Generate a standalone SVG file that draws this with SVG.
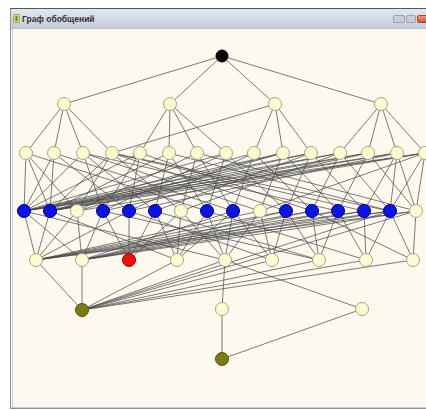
<svg xmlns="http://www.w3.org/2000/svg" width="426" height="410" viewBox="0 0 426 410">
  <defs>
    <linearGradient id="titleGrad" x1="0" y1="0" x2="0" y2="1">
      <stop offset="0" stop-color="#e2e7ed"/>
      <stop offset="0.5" stop-color="#d3dae3"/>
      <stop offset="1" stop-color="#c2ccd8"/>
    </linearGradient>
    <linearGradient id="closeGrad" x1="0" y1="0" x2="0" y2="1">
      <stop offset="0" stop-color="#f0a080"/>
      <stop offset="1" stop-color="#d0502a"/>
    </linearGradient>
    <style>
      .edges path { fill: none; stroke: #484848; stroke-width: 0.85; stroke-opacity: 0.85; }
      .n circle { stroke-width: 1; }
      .cream circle { fill: #fbfbcf; stroke: #a8a884; }
      .blue circle { fill: #0a14e6; stroke: #00007a; }
      .red circle { fill: #f20d0d; stroke: #a00000; }
      .olive circle { fill: #7b7b12; stroke: #55550a; }
      .black circle { fill: #050505; stroke: #000; }
      .title { font-family: "Liberation Sans", Arial, sans-serif; font-size: 8.5px; font-weight: bold; fill: #333; }
    </style>
  </defs>

  <!-- desktop and window frame -->
  <rect x="0" y="0" width="426" height="410" fill="#ffffff"/>
  <rect x="10.5" y="8.5" width="420" height="400" fill="#fdf9ee" stroke="#8d939b"/>
  <rect x="11" y="9" width="420" height="19" fill="url(#titleGrad)"/>
  <line x1="10" y1="8.5" x2="426" y2="8.5" stroke="#4f5964"/>
  <line x1="11" y1="28.5" x2="426" y2="28.5" stroke="#b6bfca"/>
  <line x1="12.5" y1="29" x2="12.5" y2="407" stroke="#c9ccd0"/>
  <line x1="11" y1="407.5" x2="426" y2="407.5" stroke="#c9ccd0"/>

  <!-- title bar contents -->
  <g id="titlebar">
    <rect x="13.5" y="14.5" width="6" height="8" rx="1" fill="#d6d46a" stroke="#8a9a3a" stroke-width="0.8"/>
    <rect x="15.5" y="16" width="2" height="5" fill="#5a8a2a"/>
    <text class="title" x="22" y="21.5">Граф обобщений</text>
    <rect x="393.5" y="15.5" width="11" height="7" rx="1.5" fill="#c7ced8" stroke="#9aa3ae"/>
    <rect x="406.5" y="15.5" width="9" height="7" rx="1.5" fill="#c7ced8" stroke="#9aa3ae"/>
    <rect x="417.5" y="15.5" width="10" height="7" rx="1.5" fill="url(#closeGrad)" stroke="#a4472a"/>
  </g>

  <!-- connectors -->
  <g id="edges" class="edges">
    <!-- top to second level -->
    <path d="M222 56L64 104M222 56L170 104M222 56L275 104M222 56L381 104"/>
    <!-- second level to third level -->
    <path d="M64 104L26 153M64 104L54 153M64 104L83 153M64 104L112 153"/>
    <path d="M170 104L140 153M170 104L169 153M170 104L197 153M170 104L226 153"/>
    <path d="M275 104L112 153M275 104L254 153M275 104L283 153M275 104L311 153"/>
    <path d="M381 104L340 153M381 104L368 153M381 104L397 153M381 104L425 153"/>
    <!-- third level to fourth level -->
    <path d="M26 153L24 211M26 153L50 211M26 153L77 211M26 153L207 211"/>
    <path d="M54 153L24 211M54 153L50 211M54 153L129 211M54 153L233 211"/>
    <path d="M83 153L24 211M83 153L103 211M83 153L155 211M83 153L260 211M83 153L338 211"/>
    <path d="M112 153L50 211M112 153L77 211M112 153L181 211M112 153L286 211M112 153L364 211M112 153L390 211"/>
    <path d="M140 153L24 211M140 153L103 211M140 153L129 211M140 153L312 211"/>
    <path d="M169 153L50 211M169 153L155 211M169 153L207 211M169 153L390 211"/>
    <path d="M197 153L77 211M197 153L181 211M197 153L233 211M197 153L416 211"/>
    <path d="M226 153L24 211M226 153L103 211M226 153L207 211M226 153L286 211"/>
    <path d="M254 153L50 211M254 153L129 211M254 153L233 211M254 153L312 211"/>
    <path d="M283 153L24 211M283 153L50 211M283 153L77 211M283 153L260 211M283 153L338 211"/>
    <path d="M311 153L24 211M311 153L50 211M311 153L155 211M311 153L286 211M311 153L364 211"/>
    <path d="M340 153L24 211M340 153L50 211M340 153L181 211M340 153L312 211M340 153L390 211"/>
    <path d="M368 153L24 211M368 153L50 211M368 153L103 211M368 153L338 211M368 153L416 211"/>
    <path d="M397 153L24 211M397 153L50 211M397 153L129 211M397 153L364 211M397 153L390 211M397 153L416 211"/>
    <path d="M425 153L24 211M425 153L50 211M425 153L77 211M425 153L260 211M425 153L390 211M425 153L416 211"/>
    <!-- fourth level to fifth level -->
    <path d="M36 260L24 211M36 260L50 211M36 260L77 211M36 260L129 211M36 260L260 211M36 260L286 211M36 260L312 211M36 260L338 211M36 260L364 211M36 260L390 211M36 260L416 211"/>
    <path d="M82 260L24 211M82 260L77 211M82 260L103 211M82 260L233 211M82 260L286 211M82 260L312 211M82 260L338 211M82 260L364 211M82 260L390 211M82 260L416 211"/>
    <path d="M129 260L103 211M129 260L129 211M129 260L155 211M129 260L181 211"/>
    <path d="M177 260L50 211M177 260L155 211M177 260L181 211M177 260L207 211M177 260L233 211"/>
    <path d="M225 260L24 211M225 260L181 211M225 260L207 211M225 260L233 211M225 260L260 211"/>
    <path d="M272 260L129 211M272 260L233 211M272 260L260 211M272 260L286 211"/>
    <path d="M319 260L103 211M319 260L155 211M319 260L286 211M319 260L312 211M319 260L338 211"/>
    <path d="M366 260L207 211M366 260L338 211M366 260L364 211M366 260L390 211"/>
    <path d="M413 260L312 211M413 260L390 211M413 260L416 211"/>
    <!-- fifth level to sixth level -->
    <path d="M82 310L36 260M82 310L82 260M82 310L177 260M82 310L225 260M82 310L272 260M82 310L319 260M82 310L366 260M82 310L413 260M82 310L390 211M82 310L416 211"/>
    <path d="M222 309L225 260M362 309L225 260"/>
    <!-- sixth level to bottom -->
    <path d="M222 359L222 309M222 359L362 309"/>
  </g>

  <!-- nodes -->
  <g id="top" class="n black"><circle cx="222" cy="56" r="6"/></g>

  <g id="l2-1" class="n cream"><circle cx="64" cy="104" r="6.5"/></g>
  <g id="l2-2" class="n cream"><circle cx="170" cy="104" r="6.5"/></g>
  <g id="l2-3" class="n cream"><circle cx="275" cy="104" r="6.5"/></g>
  <g id="l2-4" class="n cream"><circle cx="381" cy="104" r="6.5"/></g>

  <g id="l3-1" class="n cream"><circle cx="26" cy="153" r="6.5"/></g>
  <g id="l3-2" class="n cream"><circle cx="54" cy="153" r="6.5"/></g>
  <g id="l3-3" class="n cream"><circle cx="83" cy="153" r="6.5"/></g>
  <g id="l3-4" class="n cream"><circle cx="112" cy="153" r="6.5"/></g>
  <g id="l3-5" class="n cream"><circle cx="140" cy="153" r="6.5"/></g>
  <g id="l3-6" class="n cream"><circle cx="169" cy="153" r="6.5"/></g>
  <g id="l3-7" class="n cream"><circle cx="197" cy="153" r="6.5"/></g>
  <g id="l3-8" class="n cream"><circle cx="226" cy="153" r="6.5"/></g>
  <g id="l3-9" class="n cream"><circle cx="254" cy="153" r="6.5"/></g>
  <g id="l3-10" class="n cream"><circle cx="283" cy="153" r="6.5"/></g>
  <g id="l3-11" class="n cream"><circle cx="311" cy="153" r="6.5"/></g>
  <g id="l3-12" class="n cream"><circle cx="340" cy="153" r="6.5"/></g>
  <g id="l3-13" class="n cream"><circle cx="368" cy="153" r="6.5"/></g>
  <g id="l3-14" class="n cream"><circle cx="397" cy="153" r="6.5"/></g>
  <g id="l3-15" class="n cream"><circle cx="425" cy="153" r="6.5"/></g>

  <g id="l4-1" class="n blue"><circle cx="24" cy="211" r="6.5"/></g>
  <g id="l4-2" class="n blue"><circle cx="50" cy="211" r="6.5"/></g>
  <g id="l4-3" class="n cream"><circle cx="77" cy="211" r="6.5"/></g>
  <g id="l4-4" class="n blue"><circle cx="103" cy="211" r="6.5"/></g>
  <g id="l4-5" class="n blue"><circle cx="129" cy="211" r="6.5"/></g>
  <g id="l4-6" class="n blue"><circle cx="155" cy="211" r="6.5"/></g>
  <g id="l4-7" class="n cream"><circle cx="181" cy="211" r="6.5"/></g>
  <g id="l4-8" class="n blue"><circle cx="207" cy="211" r="6.5"/></g>
  <g id="l4-9" class="n blue"><circle cx="233" cy="211" r="6.5"/></g>
  <g id="l4-10" class="n cream"><circle cx="260" cy="211" r="6.5"/></g>
  <g id="l4-11" class="n blue"><circle cx="286" cy="211" r="6.5"/></g>
  <g id="l4-12" class="n blue"><circle cx="312" cy="211" r="6.5"/></g>
  <g id="l4-13" class="n blue"><circle cx="338" cy="211" r="6.5"/></g>
  <g id="l4-14" class="n blue"><circle cx="364" cy="211" r="6.5"/></g>
  <g id="l4-15" class="n blue"><circle cx="390" cy="211" r="6.5"/></g>
  <g id="l4-16" class="n cream"><circle cx="416" cy="211" r="6.5"/></g>

  <g id="l5-1" class="n cream"><circle cx="36" cy="260" r="6.5"/></g>
  <g id="l5-2" class="n cream"><circle cx="82" cy="260" r="6.5"/></g>
  <g id="l5-3" class="n red"><circle cx="129" cy="260" r="6.5"/></g>
  <g id="l5-4" class="n cream"><circle cx="177" cy="260" r="6.5"/></g>
  <g id="l5-5" class="n cream"><circle cx="225" cy="260" r="6.5"/></g>
  <g id="l5-6" class="n cream"><circle cx="272" cy="260" r="6.5"/></g>
  <g id="l5-7" class="n cream"><circle cx="319" cy="260" r="6.5"/></g>
  <g id="l5-8" class="n cream"><circle cx="366" cy="260" r="6.5"/></g>
  <g id="l5-9" class="n cream"><circle cx="413" cy="260" r="6.5"/></g>

  <g id="l6-1" class="n olive"><circle cx="82" cy="310" r="6.5"/></g>
  <g id="l6-2" class="n cream"><circle cx="222" cy="309" r="6.5"/></g>
  <g id="l6-3" class="n cream"><circle cx="362" cy="309" r="6.5"/></g>

  <g id="bottom" class="n olive"><circle cx="222" cy="359" r="6.5"/></g>
</svg>
